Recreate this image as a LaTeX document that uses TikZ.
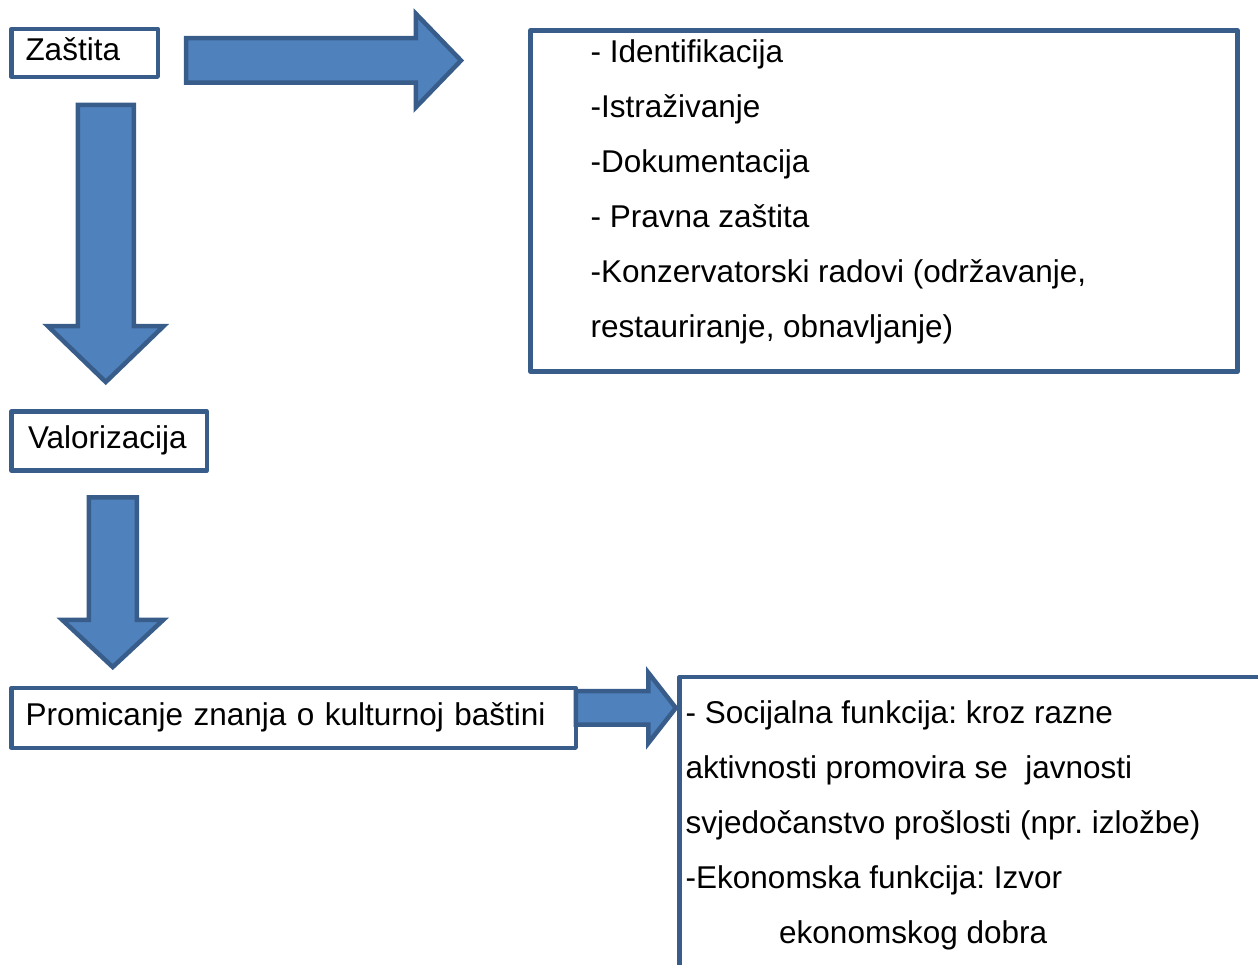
\documentclass[tikz,border=0pt]{standalone}
\usepackage{fontspec}
\setmainfont{Liberation Sans}
\usetikzlibrary{shapes.arrows}
\definecolor{edgeblue}{HTML}{385D8A}
\definecolor{arrowblue}{HTML}{4F81BD}
\frenchspacing
\tikzset{box/.style = {draw=edgeblue, line width=4.5pt, line join=round, fill=white,
                       anchor=north west, align=left, inner xsep=14pt, inner ysep=0pt,
                       outer sep=0pt, text height=23pt, text depth=8pt},
         frame/.style = {draw=edgeblue, line width=4.5pt, line join=round, fill=white,
                         anchor=north west, inner sep=0pt, outer sep=0pt},
         item/.style = {anchor=base west, inner sep=0pt},
         blockarrow/.style = {single arrow, draw=edgeblue, fill=arrowblue, line width=4.5pt,
                              inner xsep=0pt, outer sep=0pt, anchor=tail}}

\begin{document}
\begin{tikzpicture}[x=1pt, y=-1pt, font=\fontsize{31.5}{55}\selectfont]
  \useasboundingbox (0,0) rectangle (1258,965);
  \clip (0,0) rectangle (1258,965);

  % boxes on the left
  \node[box, text width=118.3pt, minimum height=47.8pt] (zastita) at (11.5,29) {Zaštita};
  \node[box, inner xsep=16.5pt, text width=162.3pt, minimum height=59pt]
    (valorizacija) at (11.5,411.5) {Valorizacija};
  \node[box, text width=536.3pt, minimum height=59.8pt]
    (promicanje) at (11.5,688) {Promicanje znanja o kulturnoj baštini};

  % block arrows
  \node[blockarrow, inner ysep=20pt, minimum height=275pt,
        single arrow head extend=24.5pt, single arrow tip angle=92] (zastitaArrow) at (186,60.5) {};
  \node[blockarrow, rotate=-90, inner ysep=25.75pt, minimum height=277pt,
        single arrow head extend=29.75pt, single arrow tip angle=92] (valorizacijaArrow) at (105.75,105) {};
  \node[blockarrow, rotate=-90, inner ysep=21.75pt, minimum height=169.7pt,
        single arrow head extend=26.5pt, single arrow tip angle=94] (promicanjeArrow) at (112.75,497.3) {};
  \node[blockarrow, inner ysep=14.5pt, minimum height=100pt,
        single arrow head extend=18.5pt, single arrow tip angle=104] (funkcijeArrow) at ([yshift=10pt]promicanje.east) {};

  % lists on the right
  \node[frame, minimum width=707pt, minimum height=341pt] (zastitaList) at (530.5,30.5) {};
  \foreach \line [count=\i] in {{- Identifikacija}, {-Istraživanje}, {-Dokumentacija},
      {- Pravna zaštita}, {-Konzervatorski radovi (održavanje,}, {restauriranje, obnavljanje)}}
    \node[item] (zastitaList-\i) at (590.5, {62.7+55*(\i-1)}) {\line};

  \node[frame, minimum width=700pt, minimum height=400pt] (funkcije) at (679.5,677) {};
  \foreach \xpos/\line [count=\i] in {685.5/{- Socijalna funkcija: kroz razne},
      685.5/{aktivnosti promovira se~ javnosti}, 685.5/{svjedočanstvo prošlosti (npr. izložbe)},
      685.5/{-Ekonomska funkcija: Izvor}, 779/{ekonomskog dobra}}
    \node[item] (funkcije-\i) at (\xpos, {723.3+55*(\i-1)}) {\line};
\end{tikzpicture}
\end{document}
